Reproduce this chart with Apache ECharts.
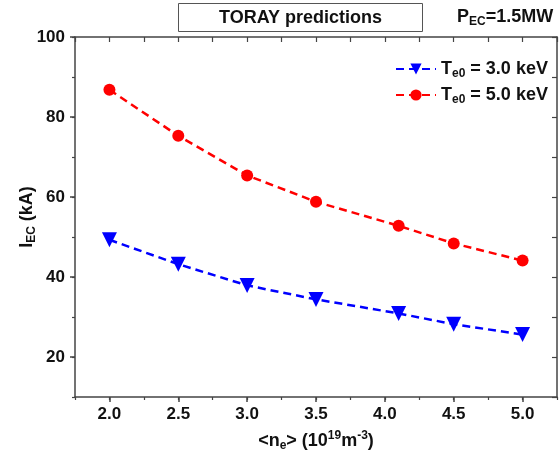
<!DOCTYPE html>
<html>
<head>
<meta charset="utf-8">
<script src="https://cdn.jsdelivr.net/npm/echarts@6/dist/echarts.min.js"></script>
<style>
  html, body { margin: 0; padding: 0; background: #fff; }
  #chart { width: 559px; height: 459px; }
</style>
</head>
<body>
<div id="chart"></div>
<script>
// data
const ne = [2.0, 2.5, 3.0, 3.5, 4.1, 4.5, 5.0];
const iecTe3 = [49.3, 43.2, 37.9, 34.4, 30.9, 28.2, 25.6];
const iecTe5 = [86.8, 75.3, 65.4, 58.8, 52.8, 48.4, 44.1];
const xTicks = [2.0, 2.5, 3.0, 3.5, 4.0, 4.5, 5.0];
const yTicks = [20, 40, 60, 80, 100];

const FONT = 'Liberation Sans';
const AXIS_COLOR = '#444';
const rich = {
  sub: { fontSize: 12, fontWeight: 'bold', fontFamily: FONT, color: '#111', verticalAlign: 'bottom', lineHeight: 12 },
  sup: { fontSize: 12, fontWeight: 'bold', fontFamily: FONT, color: '#111', verticalAlign: 'top', lineHeight: 12 }
};
const bigText = {
  fontFamily: FONT, fontSize: 18, fontWeight: 'bold', color: '#111', lineHeight: 22,
  rich: rich
};
const axisLine = { show: true, lineStyle: { color: AXIS_COLOR, width: 1.5 } };

const chart = echarts.init(document.getElementById('chart'), null, { renderer: 'canvas' });

const option = {
  backgroundColor: '#fff',
  animation: false,
  title: [{
    text: 'TORAY predictions',
    left: 178,
    top: 3,
    padding: [4, 41, 3, 41],
    borderColor: '#555',
    borderWidth: 1,
    textStyle: { fontFamily: FONT, fontSize: 18, fontWeight: 'bold', color: '#111', lineHeight: 22 }
  }, {
    text: 'P{sub|EC}=1.5MW',
    left: 457,
    top: 6,
    padding: 0,
    textStyle: bigText
  }],
  legend: {
    left: 395,
    top: 58,
    padding: 0,
    orient: 'vertical',
    itemWidth: 40,
    itemHeight: 14,
    itemGap: 4,
    textStyle: bigText,
    data: ['Te3', 'Te5'],
    formatter: function (name) {
      return name === 'Te3' ? 'T{sub|e0} = 3.0 keV' : 'T{sub|e0} = 5.0 keV';
    }
  },
  grid: { left: 75, right: 2, top: 37, bottom: 62, outerBoundsMode: 'none' },
  xAxis: [{
    type: 'value',
    min: 1.75,
    max: 5.25,
    position: 'bottom',
    axisLine: axisLine,
    axisTick: { customValues: xTicks, length: 5, lineStyle: { color: AXIS_COLOR, width: 1.5 } },
    axisLabel: {
      customValues: xTicks,
      margin: 9,
      formatter: v => v.toFixed(1),
      fontFamily: FONT, fontSize: 17, fontWeight: 'bold', color: '#111'
    },
    splitLine: { show: false },
    name: '<n{sub|e}> (10{sup|19}m{sup|-3})',
    nameLocation: 'middle',
    nameGap: 33,
    nameMoveOverlap: false,
    nameTextStyle: bigText
  }, {
    type: 'value', min: 1.75, max: 5.25, interval: 0.25, position: 'bottom',
    axisLine: { show: false },
    axisTick: { length: 3, lineStyle: { color: AXIS_COLOR, width: 1.2 } },
    axisLabel: { show: false },
    splitLine: { show: false }
  }, {
    type: 'value', min: 1.75, max: 5.25, interval: 0.25, position: 'top',
    axisLine: axisLine,
    axisTick: { inside: true, length: 5, lineStyle: { color: AXIS_COLOR, width: 1.2 } },
    axisLabel: { show: false },
    splitLine: { show: false }
  }],
  yAxis: [{
    type: 'value',
    min: 10,
    max: 100,
    position: 'left',
    axisLine: axisLine,
    axisTick: { customValues: yTicks, length: 5, lineStyle: { color: AXIS_COLOR, width: 1.5 } },
    axisLabel: {
      customValues: yTicks,
      margin: 10,
      fontFamily: FONT, fontSize: 17, fontWeight: 'bold', color: '#111'
    },
    splitLine: { show: false },
    name: 'I{sub|EC} (kA)',
    nameLocation: 'middle',
    nameGap: 37,
    nameMoveOverlap: false,
    nameTextStyle: bigText
  }, {
    type: 'value', min: 10, max: 100, interval: 10, position: 'left',
    axisLine: { show: false },
    axisTick: { length: 3, lineStyle: { color: AXIS_COLOR, width: 1.2 } },
    axisLabel: { show: false },
    splitLine: { show: false }
  }, {
    type: 'value', min: 10, max: 100, interval: 10, position: 'right',
    axisLine: axisLine,
    axisTick: { inside: true, length: 5, lineStyle: { color: AXIS_COLOR, width: 1.2 } },
    axisLabel: { show: false },
    splitLine: { show: false }
  }],
  series: [{
    name: 'Te3',
    type: 'line',
    xAxisIndex: 0,
    yAxisIndex: 0,
    data: ne.map((x, i) => [x, iecTe3[i]]),
    symbol: 'triangle',
    symbolRotate: 180,
    symbolSize: 15,
    itemStyle: { color: '#0000ff' },
    lineStyle: { color: '#0000ff', width: 2.5, type: [8, 5] }
  }, {
    name: 'Te5',
    type: 'line',
    xAxisIndex: 0,
    yAxisIndex: 0,
    data: ne.map((x, i) => [x, iecTe5[i]]),
    symbol: 'circle',
    symbolSize: 12,
    itemStyle: { color: '#ff0000' },
    lineStyle: { color: '#ff0000', width: 2.5, type: [8, 5] }
  }]
};

chart.setOption(option);
</script>
</body>
</html>
